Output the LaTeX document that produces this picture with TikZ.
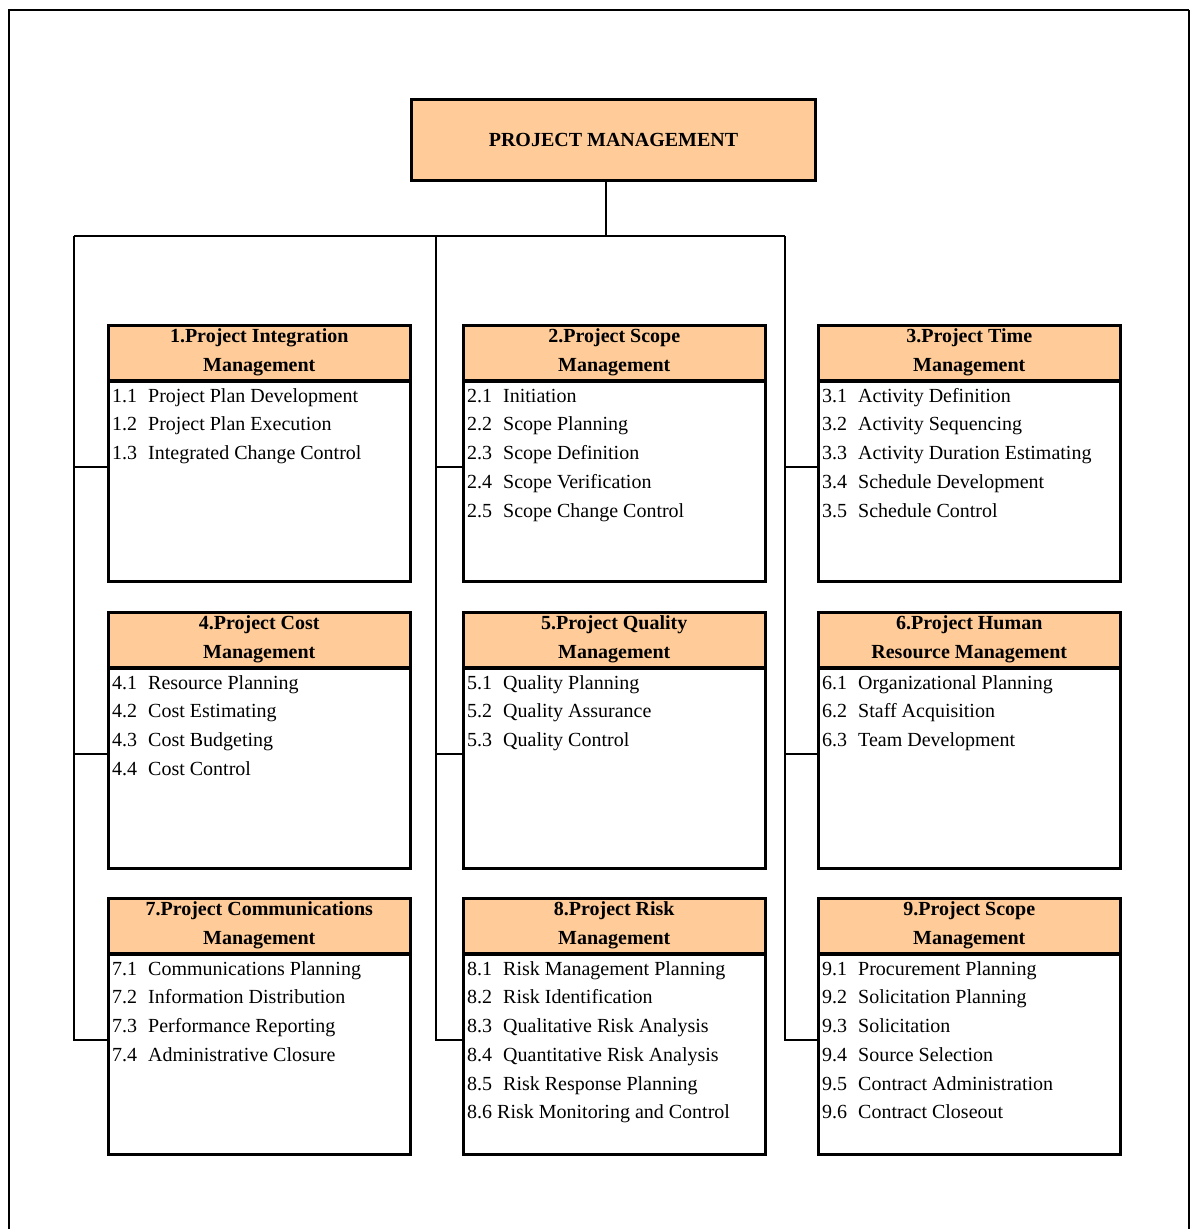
\documentclass[tikz,border=0pt]{standalone}
\usepackage{fontspec}
\setmainfont{Liberation Serif}
\usetikzlibrary{calc}
\definecolor{peach}{RGB}{255,204,153}
\tikzset{
  hdr/.style={draw, line width=2.5pt, fill=peach, rectangle, anchor=north west,
    minimum width=302pt, minimum height=55pt, inner sep=0pt, align=center,
    font=\fontsize{20}{29}\selectfont\bfseries},
  bodybox/.style={draw, line width=2.5pt, fill=white, rectangle, anchor=north,
    minimum width=302pt, minimum height=200pt, inner sep=0pt},
  item/.style={anchor=base west, inner sep=0pt, font=\fontsize{20}{29}\selectfont},
  conn/.style={line width=1.5pt},
  topbox/.style={draw, line width=3pt, fill=peach, rectangle, anchor=north west,
    minimum width=404pt, minimum height=81pt, inner sep=0pt,
    font=\fontsize{20}{24}\selectfont\bfseries},
}
\newcommand\pmgroup[5]{%
  \node[hdr] (#1h) at (#2,#3) {#4};
  \node[bodybox] (#1) at ([yshift=1.25pt]#1h.south) {};
  \foreach \n/\t [count=\i] in {#5}
    \node[item] (#1-\i) at ($(#1.north west)+(5,22+28.7*\i-28.7)$) {\makebox[36pt][l]{\n}\t};
}
\begin{document}
\begin{tikzpicture}[x=1pt,y=-1pt]
\useasboundingbox (0,0) rectangle (1190,1229);
% frame
\draw[line width=2pt] (9,1229) -- (9,10) -- (1189,10);
\draw[line width=1.5pt] (1189,10) -- (1189,1229);
% top
\node[topbox] (pm) at (410,98) {PROJECT MANAGEMENT};
% groups
\pmgroup{b1}{107}{324}{1.Project Integration\\Management}{1.1/Project Plan Development,1.2/Project Plan Execution,1.3/Integrated Change Control}
\pmgroup{b2}{462}{324}{2.Project Scope\\Management}{2.1/Initiation,2.2/Scope Planning,2.3/Scope Definition,2.4/Scope Verification,2.5/Scope Change Control}
\pmgroup{b3}{817}{324}{3.Project Time\\Management}{3.1/Activity Definition,3.2/Activity Sequencing,3.3/Activity Duration Estimating,3.4/Schedule Development,3.5/Schedule Control}
\pmgroup{b4}{107}{611}{4.Project Cost\\Management}{4.1/Resource Planning,4.2/Cost Estimating,4.3/Cost Budgeting,4.4/Cost Control}
\pmgroup{b5}{462}{611}{5.Project Quality\\Management}{5.1/Quality Planning,5.2/Quality Assurance,5.3/Quality Control}
\pmgroup{b6}{817}{611}{6.Project Human\\Resource Management}{6.1/Organizational Planning,6.2/Staff Acquisition,6.3/Team Development}
\pmgroup{b7}{107}{897}{7.Project Communications\\Management}{7.1/Communications Planning,7.2/Information Distribution,7.3/Performance Reporting,7.4/Administrative Closure}
\pmgroup{b8}{462}{897}{8.Project Risk\\Management}{8.1/Risk Management Planning,8.2/Risk Identification,8.3/Qualitative Risk Analysis,8.4/Quantitative Risk Analysis,8.5/Risk Response Planning,{8.6 Risk Monitoring and Control}/{}}
\pmgroup{b9}{817}{897}{9.Project Scope\\Management}{9.1/Procurement Planning,9.2/Solicitation Planning,9.3/Solicitation,9.4/Source Selection,9.5/Contract Administration,9.6/Contract Closeout}
% connectors
\coordinate (j) at (606,236);
\coordinate (busA) at (74,236);
\coordinate (busB) at (436,236);
\coordinate (busC) at (785,236);
\draw[conn] (pm.south -| j) -- (j);
\draw[conn] (busA) -- (busC);
\draw[conn] (busA) |- ([yshift=14.5pt]b7.west);
\draw[conn] (busB) |- ([yshift=14.5pt]b8.west);
\draw[conn] (busC) |- ([yshift=14.5pt]b9.west);
\draw[conn] ([yshift=14.5pt]b1.west) -| (busA);
\draw[conn] ([yshift=14.5pt]b4.west) -| (busA);
\draw[conn] ([yshift=14.5pt]b2.west) -| (busB);
\draw[conn] ([yshift=14.5pt]b5.west) -| (busB);
\draw[conn] ([yshift=14.5pt]b3.west) -| (busC);
\draw[conn] ([yshift=14.5pt]b6.west) -| (busC);
\end{tikzpicture}
\end{document}
